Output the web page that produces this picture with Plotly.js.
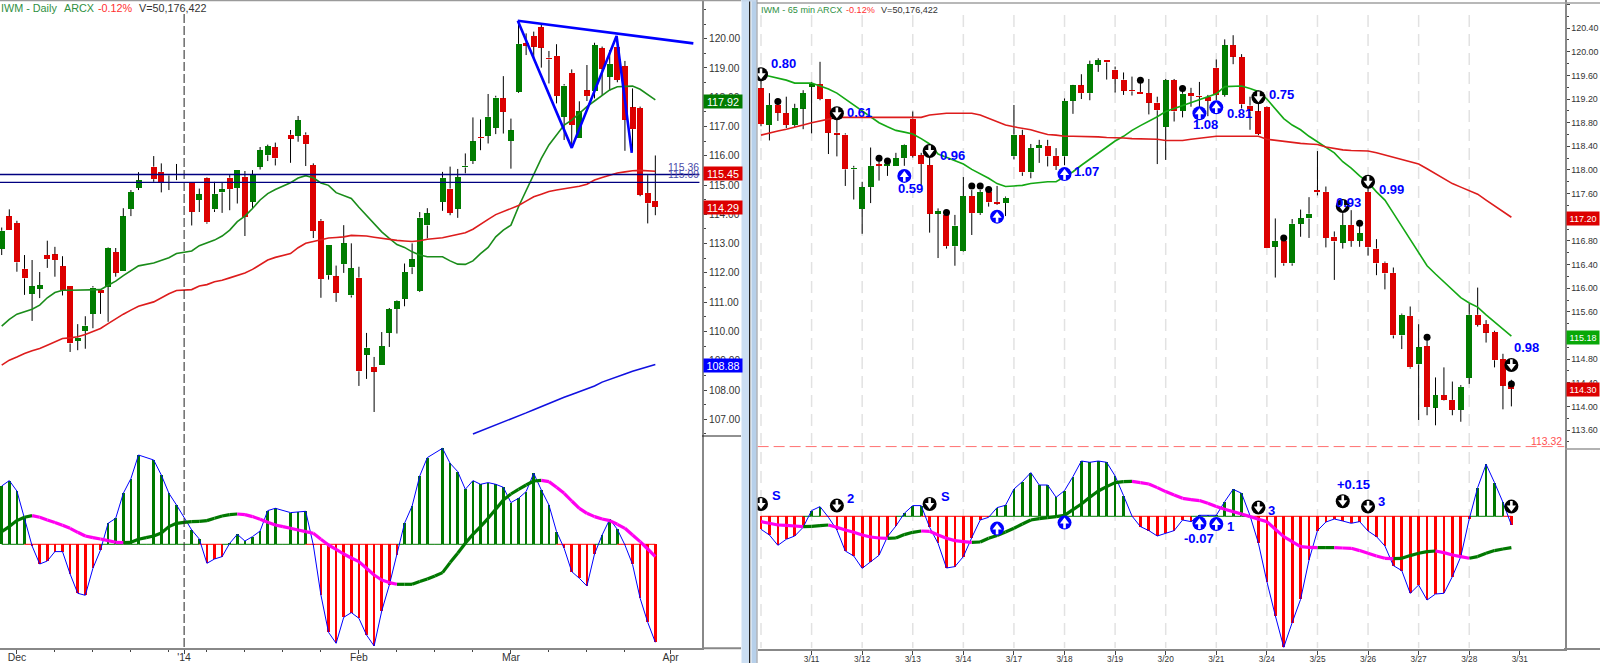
<!DOCTYPE html>
<html><head><meta charset="utf-8">
<script src="https://cdn.plot.ly/plotly-3.0.1.min.js"></script>
<style>html,body{margin:0;padding:0;background:#fff;overflow:hidden}#chart{width:1600px;height:663px}</style>
</head><body><div id="chart"></div>
<script>
// ---------- Daily panel ----------
const dayOpen=[112.82,113.93,113.70,112.14,111.29,111.46,112.61,112.63,112.23,111.54,
109.68,110.02,110.60,111.43,111.52,112.71,112.07,114.18,114.90,null,
115.63,115.45,115.36,115.37,null,115.09,114.49,115.23,114.17,114.75,
115.25,114.90,115.28,114.43,115.63,116.02,116.29,null,116.72,116.68,
116.72,115.68,113.78,111.92,111.88,112.30,111.23,111.84,109.20,108.79,
108.85,109.96,110.77,111.11,112.19,111.38,113.62,null,114.42,114.88,
114.19,115.60,115.82,116.64,116.68,116.95,117.96,116.51,118.19,119.84,
120.09,120.39,119.35,119.41,117.33,118.83,116.60,118.23,118.22,119.67,
118.70,119.73,119.06,117.65,117.63,114.73,114.46];
const dayClose=[113.44,113.46,112.36,111.81,111.54,111.58,112.47,112.44,111.41,109.59,
109.79,110.20,111.50,111.32,112.86,112.01,113.93,114.76,115.16,null,
115.20,115.09,115.33,115.34,null,114.09,114.68,113.73,114.70,114.85,
114.86,115.51,113.92,115.35,116.19,116.33,115.91,null,116.59,117.21,
116.40,113.43,111.79,112.97,111.32,113.01,112.16,108.64,109.45,108.63,
109.50,110.76,111.05,112.03,112.46,113.89,114.03,null,115.25,114.05,
115.27,115.66,116.49,116.60,117.33,117.99,117.50,116.87,119.82,119.76,
119.73,119.69,119.29,118.04,118.40,117.05,117.53,118.04,119.78,118.98,
119.14,118.59,117.23,116.91,114.67,114.38,114.25];
const dayHigh=[113.55,114.17,113.78,112.61,112.44,112.03,113.10,112.89,112.57,111.54,
110.25,110.52,111.55,111.43,112.88,112.85,114.21,114.83,115.44,null,
115.99,115.74,115.36,115.72,null,115.09,114.88,115.26,115.11,115.08,
115.34,115.51,115.48,115.51,116.30,116.38,116.45,null,116.88,117.36,
116.80,115.74,113.84,112.97,112.25,113.63,113.01,112.21,109.95,109.13,
109.98,110.80,111.07,112.32,113.01,114.08,114.21,null,115.45,115.63,
115.55,116.08,117.31,117.24,118.11,118.05,118.72,117.27,120.61,120.18,
120.24,120.50,119.58,119.81,118.45,118.95,117.86,119.10,119.86,119.73,
119.61,120.07,119.24,118.30,117.68,115.34,116.01];
const dayLow=[112.61,113.46,112.04,111.25,110.36,111.14,112.17,111.87,111.23,109.30,
109.36,109.41,110.11,110.60,110.33,111.87,112.07,113.94,114.83,null,
115.11,114.75,114.83,115.17,null,113.62,114.08,113.68,114.08,114.05,
114.14,114.37,113.26,114.20,115.53,115.82,115.67,null,115.76,116.48,
115.65,113.19,111.15,111.77,111.01,112.00,111.16,108.14,108.38,107.25,
108.85,109.47,109.93,110.86,111.96,111.35,113.18,null,114.12,113.97,
113.88,115.40,115.72,116.19,116.42,116.74,116.76,115.56,118.15,119.44,
119.33,119.01,118.47,117.79,116.54,116.31,116.60,117.87,117.96,118.07,
118.22,118.51,116.17,116.14,114.62,113.69,113.97];
const dayFastMA=[110.18,110.41,110.59,110.67,110.76,110.90,111.15,111.33,111.41,111.41,
111.41,111.41,111.41,111.43,111.58,111.72,111.91,112.09,112.24,null,
112.34,112.44,112.52,112.66,null,112.75,112.93,113.03,113.12,113.26,
113.46,113.75,113.94,114.20,114.49,114.71,114.85,null,115.08,115.24,
115.32,115.25,115.07,114.99,114.74,114.63,114.54,114.24,113.97,113.69,
113.40,113.18,112.97,112.87,112.72,112.61,112.55,null,112.55,112.41,
112.30,112.29,112.41,112.66,112.87,113.23,113.46,113.63,114.26,114.83,
115.40,115.91,116.37,116.71,117.05,117.22,117.45,117.68,117.87,118.07,
118.25,118.36,118.37,118.38,118.27,118.10,117.91];
const daySlowMA=[108.85,109.02,109.13,109.25,109.34,109.42,109.53,109.65,109.76,109.78,
109.82,109.90,109.99,110.10,110.27,110.44,110.59,110.73,110.86,null,
111.01,111.15,111.29,111.40,null,111.43,111.55,111.60,111.70,111.75,
111.83,111.92,112.00,112.12,112.29,112.44,112.53,null,112.66,112.86,
113.01,113.07,113.14,113.19,113.21,113.23,113.28,113.28,113.26,113.22,
113.18,113.14,113.11,113.09,113.07,113.10,113.15,null,113.20,113.26,
113.32,113.37,113.49,113.67,113.83,113.99,114.09,114.19,114.30,114.45,
114.60,114.69,114.78,114.83,114.87,114.91,114.96,115.03,115.17,115.26,
115.34,115.41,115.45,115.49,115.50,115.49,115.47];
const dayLongMABars=[62,63,64,65,66,67,68,69,70,71,72,73,74,75,76,77,78,79,80,81,82,83,84,85,86];
const dayLongMA=[106.50,106.60,106.71,106.80,106.90,107.00,107.11,107.22,107.33,107.44,107.55,107.65,107.75,107.85,107.95,108.05,108.14,108.27,108.37,108.46,108.55,108.64,108.72,108.80,108.87];
const dayHist=[.583,.637,.533,.26,-.017,-.197,-.167,-.073,-.073,-.297,
-.49,-.51,-.24,-.057,.21,.26,.51,.657,.893,null,
.843,.693,.51,.393,null,.143,.053,-.19,-.147,-.123,
.01,.10,.033,.077,.133,.337,.36,null,.317,.323,
.33,-.007,-.507,-.88,-.99,-.73,-.683,-.74,-.907,-1.017,
-.667,-.407,-.107,.21,.383,.683,.867,null,.96,.81,
.727,.55,.637,.6,.617,.6,.57,.417,.46,.527,
.71,.543,.393,.127,-.04,-.273,-.34,-.417,-.097,.093,
.25,.15,-.007,-.2,-.54,-.78,-.98];
const daySignal=[.127,.177,.237,.27,.287,.27,.243,.217,.19,.16,
.12,.083,.067,.053,.037,.02,.017,.02,.05,.067,
.083,.113,.177,.21,.22,.227,.23,.237,.26,.283,
.297,.303,.297,.277,.25,.22,.193,.177,.16,.143,
.127,.11,.05,-.007,-.05,-.097,-.137,-.173,-.24,-.307,
-.357,-.383,-.4,-.4,-.4,-.373,-.347,-.317,-.283,-.183,
-.09,.01,.1,.177,.26,.35,.443,.503,.55,.593,
.633,.64,.627,.57,.51,.433,.36,.31,.277,.253,
.237,.2,.16,.093,.027,-.047,-.123];
const dayTickBars=[2,24,47,67,88];
const dayTickText=['Dec',"'14",'Feb','Mar','Apr'];
const dayMinorBars=[7,12,17,22,27,32,37,42,52,57,62,72,77,82];
const dayPriceTicks=[107,108,109,110,111,112,113,114,115,116,117,118,119,120];
const wedgeBars=[67.9,75,80.9,82.9];
const wedgePrices=[120.61,116.27,120.09,116.10];
const topLineBars=[67.9,91];
const topLinePrices=[120.61,119.84];
const levelA=115.36, levelB=115.09;
const dayLastFast=117.92, dayLastSlow=115.45, dayLast=114.29, dayLastLong=108.88;

// ---------- 65 min panel ----------
const minOpen=[119.38,118.76,119.10,118.96,118.76,119.04,119.41,119.45,119.20,118.63,
118.60,118.01,117.34,117.71,118.10,118.07,118.06,118.20,118.87,118.25,
118.08,117.26,117.24,116.71,116.63,117.56,117.27,117.62,117.46,117.44,
118.23,118.59,117.96,118.37,118.41,118.24,118.23,119.17,119.43,119.30,
119.78,119.86,119.70,119.53,119.35,119.32,119.30,119.14,118.73,119.52,
119.00,119.30,119.26,119.23,119.73,119.27,120.11,119.91,119.09,118.99,
119.07,116.70,116.80,116.42,117.09,117.18,117.66,117.63,116.87,116.77,
117.07,116.80,117.63,116.67,116.43,116.26,115.20,115.53,114.71,115.02,
113.98,114.19,114.11,113.94,114.48,115.55,115.39,115.26,114.80,114.35];
const minClose=[118.78,119.10,118.97,118.76,119.05,119.30,119.45,119.20,118.63,118.60,
118.01,118.04,117.71,118.07,118.07,118.10,118.20,118.43,118.24,118.10,
117.26,117.30,116.71,117.06,117.56,117.27,117.63,117.45,117.43,117.53,
118.60,117.96,118.37,118.42,118.23,118.07,119.17,119.43,119.30,119.79,
119.86,119.82,119.54,119.34,119.33,119.29,119.14,119.01,119.52,118.99,
119.29,119.25,119.24,119.17,119.27,120.11,119.92,119.11,118.99,118.61,
116.68,116.80,116.42,117.09,117.18,117.26,117.62,116.85,116.79,117.07,
116.80,116.93,116.69,116.42,116.25,115.20,115.55,114.66,115.00,113.99,
114.19,114.11,113.94,114.33,115.55,115.38,115.25,114.78,114.35,114.30];
const minHigh=[119.72,119.30,119.21,119.24,119.12,119.35,119.49,119.83,119.20,118.90,
118.62,118.07,117.80,118.38,118.20,118.11,118.29,118.44,118.99,118.29,
118.23,117.35,117.27,117.24,117.88,117.66,117.66,117.63,117.73,117.55,
119.10,118.68,118.44,118.51,118.51,118.37,119.21,119.44,119.62,119.85,
119.89,119.86,119.75,119.65,119.58,119.47,119.54,119.24,119.54,119.54,
119.35,119.39,119.49,119.27,119.87,120.21,120.28,119.96,119.24,119.24,
119.08,117.18,116.84,117.17,117.33,117.54,118.32,117.72,116.96,117.27,
117.32,117.07,117.72,116.83,116.45,116.35,115.57,115.69,115.39,115.12,
114.49,114.66,114.42,114.36,115.74,116.01,115.46,115.28,114.89,114.45];
const minLow=[118.74,118.50,118.83,118.71,118.73,118.69,118.62,119.18,118.27,118.23,
117.73,117.50,116.92,117.44,117.82,117.90,118.06,118.07,118.21,117.75,
116.94,116.51,116.67,116.38,116.62,116.90,117.24,117.38,117.41,117.22,
118.18,117.90,117.86,118.12,118.06,118.00,118.08,118.95,119.20,119.18,
119.66,119.53,119.31,119.27,119.26,119.29,118.94,118.10,118.17,118.82,
118.89,119.07,119.04,118.91,119.18,119.24,119.79,119.04,118.68,118.59,
116.68,116.18,116.38,116.38,116.87,116.85,117.57,116.69,116.14,116.67,
116.70,116.70,116.55,116.22,115.98,115.15,114.97,114.64,113.77,113.85,
113.68,114.10,113.85,113.74,114.38,115.35,115.08,114.66,113.95,114.00];
const minFastMA=[119.62,119.59,119.56,119.52,119.47,119.47,119.47,119.42,119.37,119.30,
119.20,119.09,118.99,118.89,118.80,118.73,118.67,118.64,118.61,118.53,
118.44,118.27,118.21,118.16,118.10,118.01,117.94,117.86,117.77,117.72,
117.73,117.74,117.77,117.79,117.80,117.80,117.88,117.97,118.08,118.18,
118.29,118.39,118.49,118.57,118.67,118.75,118.82,118.90,118.99,119.04,
119.10,119.14,119.20,119.24,119.29,119.41,119.42,119.42,119.38,119.33,
119.20,119.04,118.87,118.76,118.68,118.57,118.48,118.39,118.29,118.14,
118.03,117.90,117.79,117.63,117.49,117.27,117.05,116.83,116.60,116.38,
116.24,116.11,115.97,115.84,115.75,115.68,115.55,115.43,115.32,115.19];
const minSlowMA=[118.59,118.63,118.66,118.69,118.72,118.76,118.80,118.83,118.86,118.89,
118.89,118.89,118.89,118.89,118.89,118.89,118.89,118.89,118.89,118.89,
118.93,118.95,118.96,118.96,118.96,118.96,118.93,118.87,118.82,118.76,
118.73,118.71,118.68,118.64,118.60,118.59,118.57,118.57,118.57,118.56,
118.56,118.55,118.55,118.54,118.53,118.53,118.53,118.52,118.50,118.50,
118.50,118.52,118.54,118.55,118.57,118.57,118.57,118.58,118.58,118.57,
118.52,118.50,118.48,118.46,118.45,118.44,118.43,118.39,118.36,118.34,
118.33,118.33,118.32,118.29,118.25,118.21,118.18,118.14,118.10,118.02,
117.94,117.86,117.77,117.71,117.65,117.59,117.49,117.39,117.29,117.20];
const minHist=[-.13,-.187,-.29,-.23,-.197,-.11,.057,.097,-.01,-.137,
-.347,-.397,-.52,-.453,-.39,-.203,-.097,.03,.107,.107,
-.11,-.27,-.517,-.503,-.403,-.213,-.037,-.01,.087,.11,
.273,.347,.437,.313,.313,.19,.257,.397,.553,.54,
.553,.54,.403,.207,.003,-.103,-.143,-.197,-.17,-.143,
-.037,-.053,.01,.01,.01,.147,.27,.23,.007,-.27,
-.653,-.993,-1.31,-1.063,-.83,-.437,-.143,-.057,-.027,-.047,
-.07,-.053,-.147,-.203,-.297,-.493,-.543,-.77,-.687,-.837,
-.777,-.77,-.603,-.403,-.027,.287,.52,.337,.14,-.087];
const minSignal=[-.053,-.07,-.087,-.09,-.097,-.103,-.1,-.093,-.087,-.11,
-.137,-.16,-.187,-.207,-.217,-.22,-.217,-.183,-.16,-.147,
-.15,-.187,-.22,-.243,-.253,-.26,-.257,-.22,-.193,-.157,
-.12,-.077,-.037,-.023,-.013,-.003,.01,.067,.123,.19,
.253,.297,.337,.347,.35,.337,.323,.287,.247,.213,
.18,.167,.157,.13,.097,.07,.047,.023,-.003,-.03,
-.053,-.13,-.203,-.253,-.303,-.31,-.313,-.313,-.313,-.317,
-.32,-.343,-.37,-.397,-.42,-.423,-.42,-.393,-.37,-.353,
-.347,-.363,-.387,-.403,-.42,-.403,-.37,-.343,-.327,-.313];
const minTickBars=[6,12,18,24,30,36,42,48,54,60,66,72,78,84,90];
const minTickText=['3/11','3/12','3/13','3/14','3/17','3/18','3/19','3/20','3/21','3/24','3/25','3/26','3/27','3/28','3/31'];
const gridBars=[0,6,12,18,24,30,36,42,48,54,60,66,72,78,84];
const dotBars=[2,14,15,22,25,26,27,45,50,62,71,79,89];
const dotPrices=[119.16,118.20,118.15,117.28,117.73,117.73,117.67,119.52,119.38,116.85,117.10,115.17,114.38];
const sellBars=[0,9,20,59,69,72,89];
const sellPrices=[119.62,118.96,118.32,119.23,117.39,117.80,114.70];
const buyBars=[17,28,36,52,54];
const buyPrices=[117.90,117.21,117.93,118.96,119.06];
const histSellBars=[0,9,20,59,69,72,89];
const histSellVals=[.123,.107,.123,.087,.15,.097,.097];
const histBuyBars=[28,36,52,54];
const histBuyVals=[-.123,-.063,-.07,-.077];
const supportLevel=113.32;
const minLastFast=115.18, minLastSlow=117.20, minLast=114.30;
const priceNotes=['0.80','0.61','0.59','0.96','1.07','1.08','0.81','0.75','0.93','0.99','0.98'];
const histNotes=['S','2','S','-0.07','1','3','+0.15','3'];

// ---------- styles ----------
const W=1600,H=663,FONT='"Liberation Sans",Arial,sans-serif';
const GREEN='#007c00',RED='#dc0000',BLUE='#0000ff';
const px=v=>v/W, py=v=>1-v/H;

function candles(o,h,l,c,xa,ya,width){
  const xs=[],base=[],size=[],col=[],wx=[],wy=[];
  o.forEach((v,i)=>{
    if(v===null) return;
    const top=Math.max(v,c[i]),bot=Math.min(v,c[i]);
    xs.push(i);base.push(bot);size.push(top-bot);col.push(c[i]>=v?GREEN:RED);
    wx.push(i,i,null,i,i,null);wy.push(h[i],top,null,bot,l[i],null);
  });
  return [
    {type:'bar',x:xs,y:size,base:base,width:width,marker:{color:col,line:{width:0}},xaxis:xa,yaxis:ya,hoverinfo:'skip'},
    {type:'scatter',mode:'lines',x:wx,y:wy,line:{color:'#000',width:1},xaxis:xa,yaxis:ya,hoverinfo:'skip'}
  ];
}
function line(x,y,color,width,xa,ya,extra){
  return Object.assign({type:'scatter',mode:'lines',x:x,y:y,connectgaps:true,line:{color:color,width:width},xaxis:xa,yaxis:ya,hoverinfo:'skip'},extra||{});
}
function macd(hist,signal,xa,ya,width){
  const xs=[],ys=[],cs=[];
  hist.forEach((v,i)=>{if(v!==null){xs.push(i);ys.push(v);cs.push(v>=0?'#007800':'#ff0000');}});
  const idx=hist.map((_,i)=>i);
  const zg={x:[],y:[]},zr={x:[],y:[]};
  let last=hist[0];
  for(let i=0;i<hist.length-1;i++){
    const nv=hist[i+1]===null?last:hist[i+1]; last=nv;
    const z=nv>=0?zg:zr; z.x.push(i,i+1,null); z.y.push(0,0,null);
  }
  const sg={x:[],y:[]},sm={x:[],y:[]};
  for(let i=0;i<signal.length-1;i++){
    const s=signal[i+1]>=signal[i]?sg:sm;
    s.x.push(i,i+1,null); s.y.push(signal[i],signal[i+1],null);
  }
  return [
    {type:'bar',x:xs,y:ys,base:0,width:width,marker:{color:cs,line:{width:0}},xaxis:xa,yaxis:ya,hoverinfo:'skip'},
    line(zg.x,zg.y,'#007800',1,xa,ya,{connectgaps:false}),
    line(zr.x,zr.y,'#ff0000',1,xa,ya,{connectgaps:false}),
    line(idx,hist,BLUE,1,xa,ya),
    line(sg.x,sg.y,'#007800',3.2,xa,ya,{connectgaps:false}),
    line(sm.x,sm.y,'#ff00f0',3.2,xa,ya,{connectgaps:false})
  ];
}
// round icon: disc + white arrow; unit = axis units per pixel, dir = +1 up, -1 down
function icons(x,y,disc,dir,unit,xa,ya){
  const m=(yy,sym,size,color,lw)=>({type:'scatter',mode:'markers',x:x,y:yy,xaxis:xa,yaxis:ya,hoverinfo:'skip',
    marker:{symbol:sym,size:size,color:color,line:{width:lw||0,color:color}}});
  return [
    m(y,'circle',14,disc),
    m(y.map(v=>v-dir*1.5*unit),'line-ns',6,'#fff',2.6),
    m(y.map(v=>v+dir*1*unit),dir>0?'triangle-up':'triangle-down',8,'#fff')
  ];
}

const traces=[].concat(
  candles(dayOpen,dayHigh,dayLow,dayClose,'x','y',0.79),
  [line(dayFastMA.map((_,i)=>i),dayFastMA,'#1a8c1a',1.6,'x','y'),
   line(daySlowMA.map((_,i)=>i),daySlowMA,'#dd1c1c',1.6,'x','y'),
   line(dayLongMABars,dayLongMA,'#1010e0',1.6,'x','y'),
   line(wedgeBars,wedgePrices,BLUE,2.6,'x','y'),
   line(topLineBars,topLinePrices,BLUE,2.6,'x','y')],
  macd(dayHist,daySignal,'x2','y2',0.34),
  candles(minOpen,minHigh,minLow,minClose,'x3','y3',0.71),
  [line(minFastMA.map((_,i)=>i),minFastMA,'#14a814',1.6,'x3','y3'),
   line(minSlowMA.map((_,i)=>i),minSlowMA,'#dd1c1c',1.6,'x3','y3'),
   {type:'scatter',mode:'markers',x:dotBars,y:dotPrices,xaxis:'x3',yaxis:'y3',hoverinfo:'skip',marker:{color:'#000',size:7}}],
  icons(sellBars,sellPrices,'#000',-1,1/59.1,'x3','y3'),
  icons(buyBars,buyPrices,BLUE,1,1/59.1,'x3','y3'),
  macd(minHist,minSignal,'x4','y4',0.32),
  icons(histSellBars,histSellVals,'#000',-1,0.01,'x4','y4'),
  icons(histBuyBars,histBuyVals,BLUE,1,0.01,'x4','y4')
);

// ---------- shapes ----------
const paperRect=(x0,y0,x1,y1,color)=>({type:'rect',xref:'paper',yref:'paper',x0:px(x0),x1:px(x1),y0:py(y0),y1:py(y1),fillcolor:color,line:{width:0},layer:'above'});
const paperLine=(x0,y0,x1,y1,color,w)=>({type:'line',xref:'paper',yref:'paper',x0:px(x0),x1:px(x1),y0:py(y0),y1:py(y1),line:{color:color,width:w},layer:'above'});
const shapes=[
  paperRect(741.5,0,749,663,'#cbdef2'),
  paperRect(749,0,750.5,663,'#222222'),
  paperRect(750.5,0,751.5,663,'#eef3f8'),
  paperRect(751.5,0,756.5,663,'#b7d0ea'),
  paperRect(741.5,0,756.5,1.5,'#c4d6ea'),
  paperLine(0,0.6,741,0.6,'#9a9a9a',1.2),
  paperLine(757,3,1600,3,'#a0a0a0',1.5),
  paperRect(756.5,0,757.5,663,'#8a9098'),
  paperLine(702,648.2,741,648.2,'#888',2),
  paperLine(1564,649,1600,649,'#888',2),
  paperLine(702,436,741,436,'#222',1),
  paperLine(1565,449,1600,449,'#999',1.5),
  {type:'line',xref:'x',yref:'paper',x0:24,x1:24,y0:py(14),y1:py(648),line:{color:'#222',width:1,dash:'9px,3px'}},
  {type:'line',xref:'x',yref:'y',x0:-1,x1:91.8,y0:levelA,y1:levelA,line:{color:'#000080',width:1.3}},
  {type:'line',xref:'x',yref:'y',x0:-1,x1:91.8,y0:levelB,y1:levelB,line:{color:'#000080',width:1.3}},
  {type:'line',xref:'x3',yref:'y3',x0:-0.4,x1:95.3,y0:supportLevel,y1:supportLevel,line:{color:'#ff7070',width:1,dash:'11px,5px'}}
].concat(gridBars.map(b=>({type:'line',xref:'x3',yref:'paper',x0:b,x1:b,y0:py(15),y1:py(648),layer:'below',
  line:{color:'#e2e2e2',width:1.5,dash:'12px,7px'}})));

// ---------- text ----------
const note=(t,x,y,size,color,anchor,weight)=>({text:t,xref:'paper',yref:'paper',x:px(x),y:py(y),xanchor:anchor||'left',yanchor:'middle',showarrow:false,
  font:{family:FONT,size:size,color:color,weight:weight||'normal'},borderpad:0});
const box=(t,yref,y,xa,w,size,color,shift)=>({text:t,xref:'paper',yref:yref,x:px(xa),y:y,xanchor:'left',yanchor:'middle',showarrow:false,
  width:w,height:13,align:'center',bgcolor:color,yshift:shift,font:{family:FONT,size:size,color:'#fff'},borderpad:0});
const priceNotePos=[[770,64],[846,112],[896.5,188],[939,155],[1073,172],[1192,124],[1225.5,113],[1268,95],[1335,202],[1377.5,189],[1512.5,347]];
const histNotePos=[[770.5,495.5],[846,498.5],[940,496.5],[1183,538.5],[1225.5,526.5],[1267,510.5],[1335.5,484],[1377,501]];
const annotations=[
  note('IWM - Daily',0,8.5,10.8,'#2f8f3f'),
  note('ARCX',62.5,8.5,10.8,'#2f8f3f'),
  note('-0.12%',96.5,8.5,10.8,'#ff3030'),
  note('V=50,176,422',138,8.5,10.8,'#333'),
  note('IWM - 65 min',760,10,9.1,'#2f8f3f'),
  note('ARCX',816,10,9.1,'#2f8f3f'),
  note('-0.12%',845,10,9.1,'#ff3030'),
  note('V=50,176,422',880,10,9.1,'#333'),
  note(levelA.toFixed(2),700,167.5,10.4,'#4a4aa8','right'),
  note(levelB.toFixed(2),700,175,10.4,'#4a4aa8','right'),
  note(supportLevel.toFixed(2),1562.5,441,10.4,'#ff5050','right'),
  box(dayLastFast.toFixed(2),'y',dayLastFast,702.5,38,10.8,'#007c00',-1.7),
  box(dayLastSlow.toFixed(2),'y',dayLastSlow,702.5,38,10.8,'#dc0000',-1.7),
  box(dayLast.toFixed(2),'y',dayLast,702.5,38,10.8,'#dc0000',-1.7),
  box(dayLastLong.toFixed(2),'y',dayLastLong,702.5,38,10.8,'#0000ff',-1.7),
  box(minLastSlow.toFixed(2),'y3',minLastSlow,1566,32,9,'#dc0000',-1.7),
  box(minLastFast.toFixed(2),'y3',minLastFast,1566,32,9,'#08a808',-1),
  box(minLast.toFixed(2),'y3',minLast,1566,32,9,'#dc0000',-1)
].concat(
  priceNotes.map((t,i)=>note(t,priceNotePos[i][0],priceNotePos[i][1],13,BLUE,'left','bold')),
  histNotes.map((t,i)=>note(t,histNotePos[i][0],histNotePos[i][1],13,BLUE,'left','bold'))
);

// ---------- axes (x = bar number) ----------
const LX=[-0.224,92.14], RX=[-0.415,95.3];
const hiddenX=(dom,range,anchor)=>({domain:dom,range:range,anchor:anchor,visible:false,fixedrange:true});
const bottomX=(dom,range,anchor,vals,text,minor,size,standoff)=>({domain:dom,range:range,anchor:anchor,tickmode:'array',tickvals:vals,ticktext:text,
  ticks:'outside',ticklen:4,tickcolor:'#444',tickwidth:1,showline:true,linecolor:'#888',linewidth:2,showgrid:false,zeroline:false,tickangle:0,
  ticklabelstandoff:standoff,tickfont:{family:FONT,size:size,color:'#333'},fixedrange:true,
  minor:minor?{tickmode:'array',tickvals:minor,ticks:'outside',ticklen:2,tickcolor:'#444',showgrid:false}:undefined});
const priceY=(dom,range,anchor,ticks,size,minorD)=>Object.assign({domain:dom,range:range,anchor:anchor,side:'right',
  tickformat:'.2f',ticks:'outside',ticklen:3,tickcolor:'#444',showline:true,linecolor:'#888',linewidth:2,showgrid:false,zeroline:false,
  tickfont:{family:FONT,size:size,color:'#333'},fixedrange:true,
  minor:{tickmode:'linear',tick0:0,dtick:minorD,ticks:'outside',ticklen:2,tickcolor:'#444',showgrid:false}},ticks);
const histY=(dom,range,anchor)=>({domain:dom,range:range,anchor:anchor,side:'right',showticklabels:false,ticks:'',showline:true,linecolor:'#888',linewidth:2,showgrid:false,zeroline:false,fixedrange:true});
const LD=[0,702/W], RD=[757.5/W,1564.5/W];
const layout={
  width:W,height:H,autosize:false,margin:{l:0,r:0,t:0,b:0,pad:0},paper_bgcolor:'#fff',plot_bgcolor:'#fff',
  showlegend:false,barmode:'overlay',bargap:0,font:{family:FONT},
  xaxis:hiddenX(LD,LX,'y'),
  yaxis:priceY([1-436/H,1],[106.43,121.32],'x',{tickmode:'array',tickvals:dayPriceTicks},10.2,0.5),
  xaxis2:bottomX(LD,LX,'y2',dayTickBars,dayTickText,dayMinorBars,10.4,-5),
  yaxis2:histY([1-648/H,1-436/H],[-1.037,1.083],'x2'),
  xaxis3:hiddenX(RD,RX,'y3'),
  yaxis3:priceY([1-449/H,1],[113.279,120.876],'x3',{tickmode:'linear',tick0:0,dtick:0.4},8.9,0.2),
  xaxis4:bottomX(RD,RX,'y4',minTickBars,minTickText,null,8.3,-3),
  yaxis4:histY([1-649/H,1-449/H],[-1.327,0.673],'x4'),
  shapes:shapes,annotations:annotations
};
Plotly.newPlot('chart',traces,layout,{displayModeBar:false,staticPlot:true,responsive:false});
</script></body></html>
